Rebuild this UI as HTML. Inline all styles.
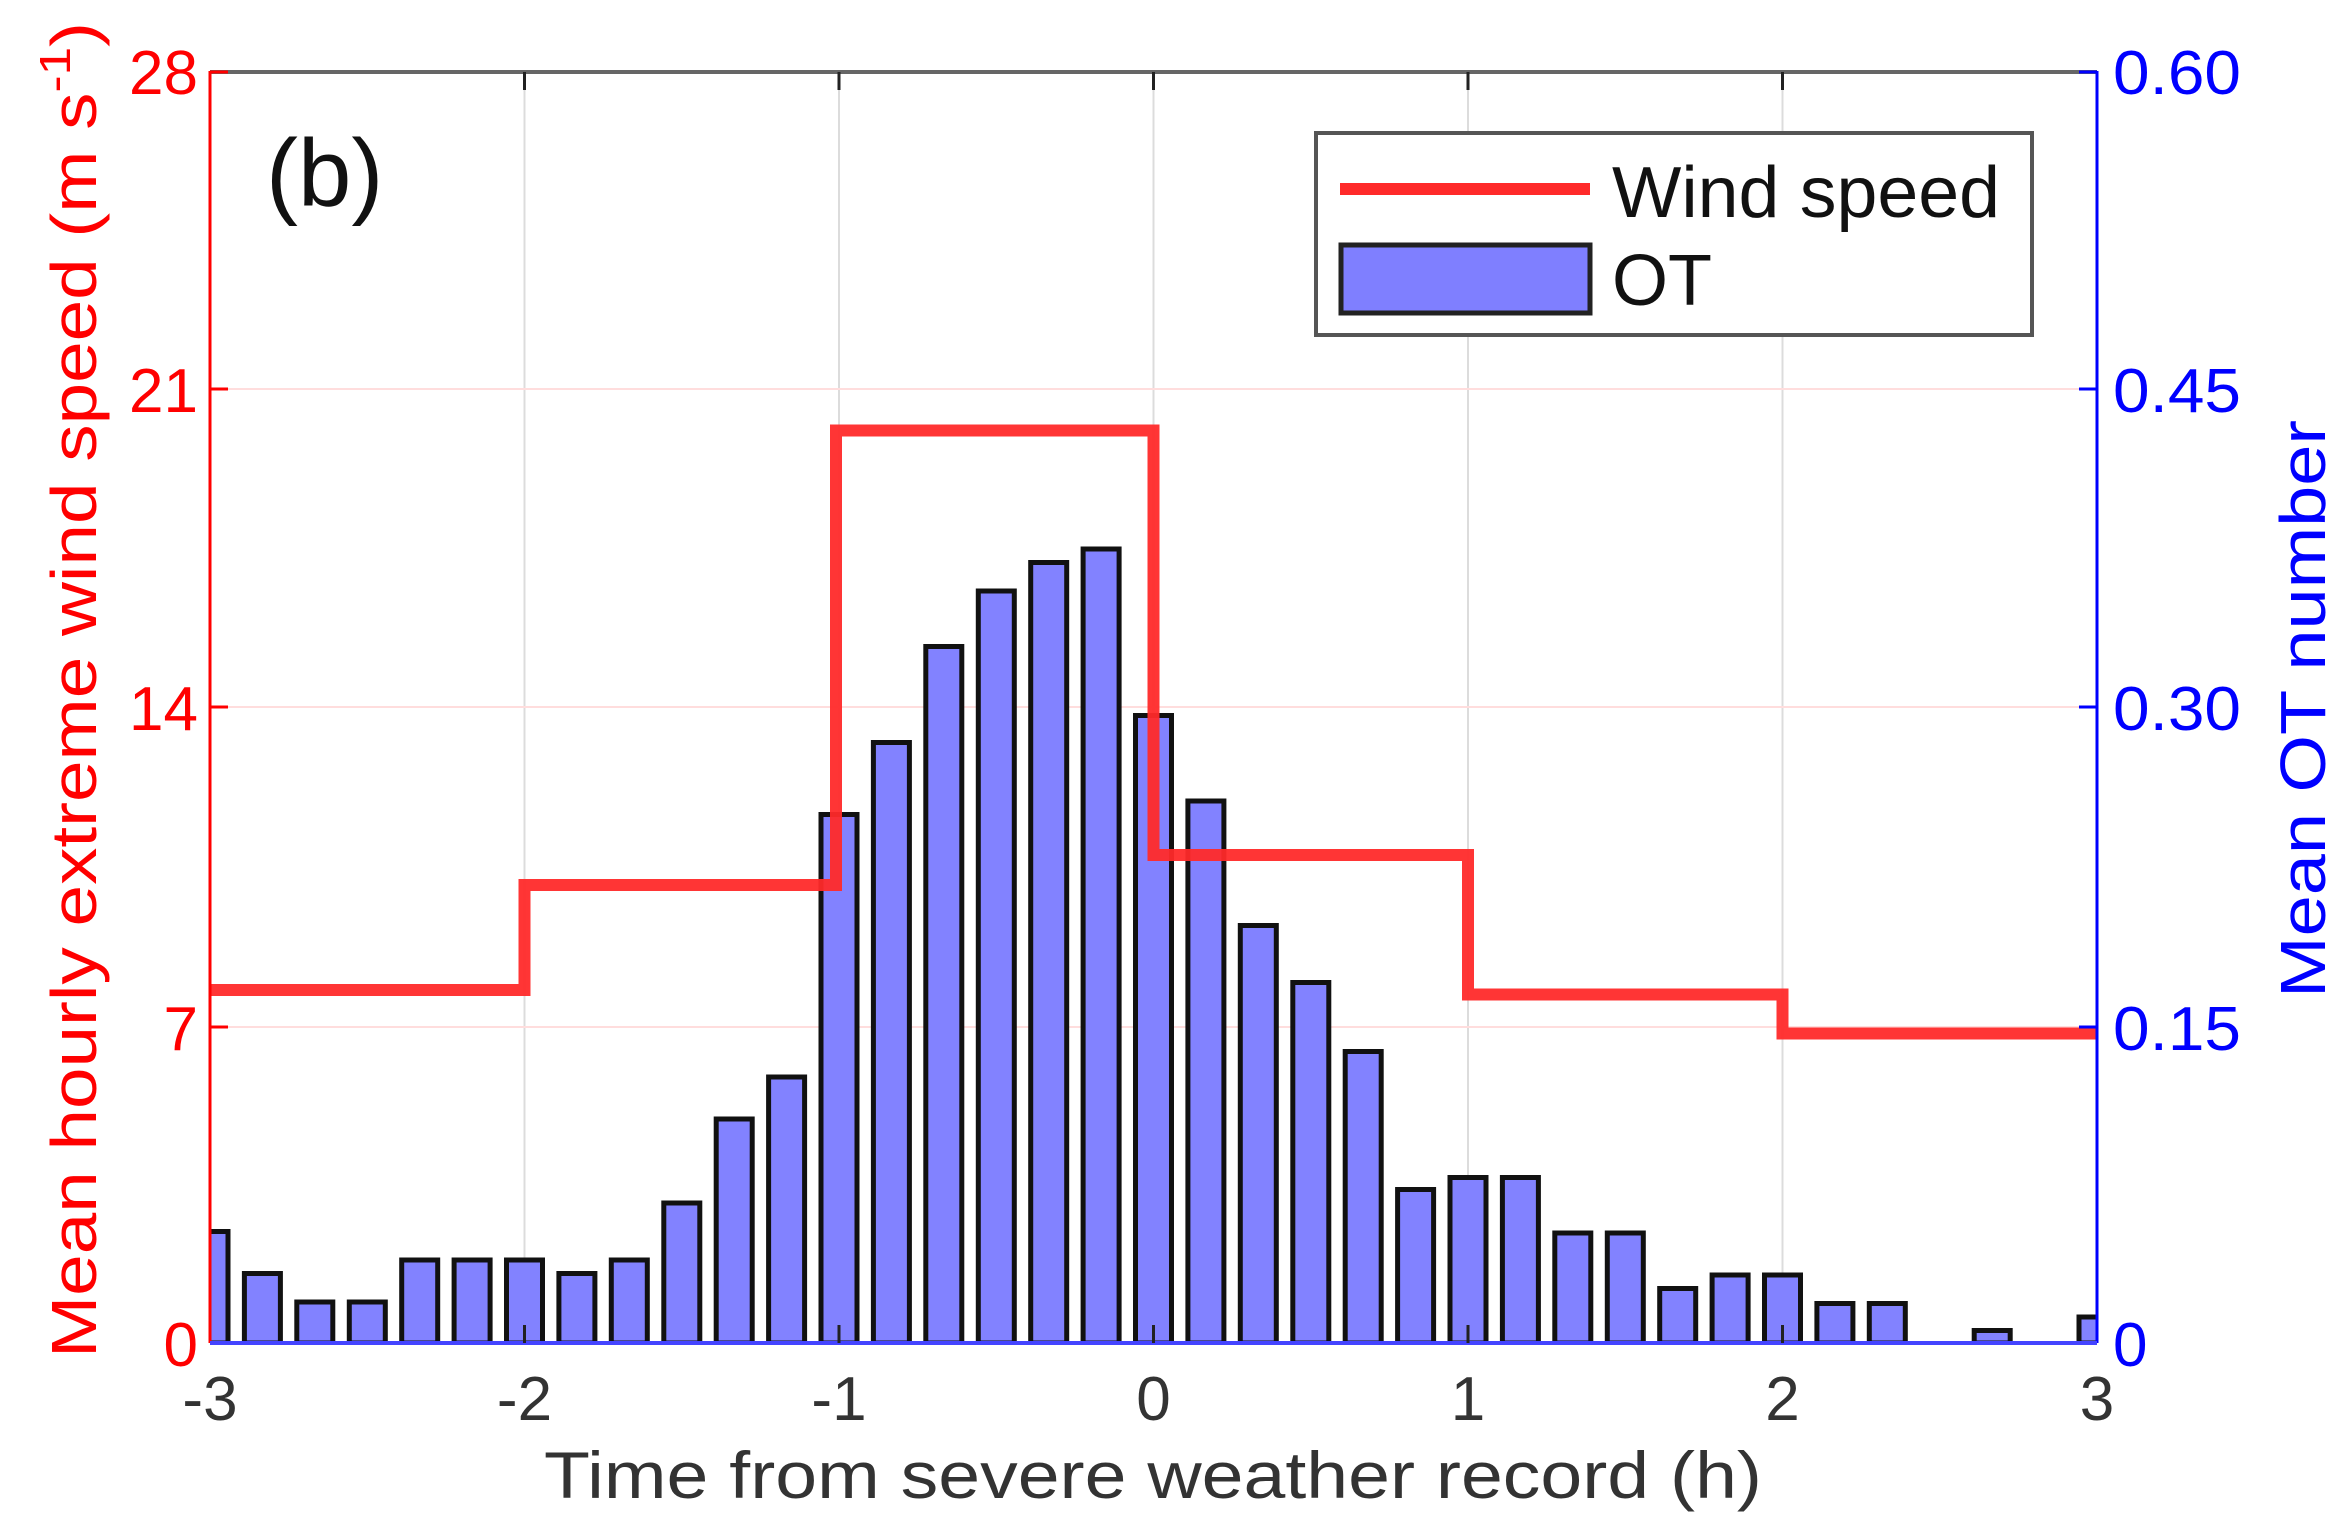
<!DOCTYPE html>
<html><head><meta charset="utf-8"><style>html,body{margin:0;padding:0;background:#fff}svg{display:block}</style></head>
<body>
<svg width="2346" height="1539" viewBox="0 0 2346 1539" xmlns="http://www.w3.org/2000/svg" font-family="Liberation Sans, Arial, sans-serif">
<defs><clipPath id="c"><rect x="210" y="71" width="1887" height="1272"/></clipPath></defs>
<rect width="2346" height="1539" fill="#fff"/>
<g stroke="#dcdcdc" stroke-width="2">
<line x1="524.5" y1="71" x2="524.5" y2="1343"/><line x1="839" y1="71" x2="839" y2="1343"/><line x1="1153.5" y1="71" x2="1153.5" y2="1343"/><line x1="1468" y1="71" x2="1468" y2="1343"/><line x1="1782.5" y1="71" x2="1782.5" y2="1343"/>
</g>
<g stroke="#fdd" stroke-width="2">
<line x1="210" y1="389" x2="2097" y2="389"/><line x1="210" y1="707" x2="2097" y2="707"/><line x1="210" y1="1027" x2="2097" y2="1027"/>
</g>
<g clip-path="url(#c)" fill="#7f7fff" fill-opacity="0.98" stroke="#111" stroke-width="5">
<rect x="192" y="1231.5" width="36" height="111.5"/>
<rect x="244.4" y="1273.5" width="36" height="69.5"/>
<rect x="296.8" y="1302" width="36" height="41"/>
<rect x="349.3" y="1302" width="36" height="41"/>
<rect x="401.7" y="1260" width="36" height="83"/>
<rect x="454.1" y="1260" width="36" height="83"/>
<rect x="506.5" y="1260" width="36" height="83"/>
<rect x="558.9" y="1273.5" width="36" height="69.5"/>
<rect x="611.3" y="1260" width="36" height="83"/>
<rect x="663.8" y="1203" width="36" height="140"/>
<rect x="716.2" y="1119" width="36" height="224"/>
<rect x="768.6" y="1077" width="36" height="266"/>
<rect x="821" y="814.5" width="36" height="528.5"/>
<rect x="873.4" y="742.5" width="36" height="600.5"/>
<rect x="925.8" y="646.5" width="36" height="696.5"/>
<rect x="978.3" y="591" width="36" height="752"/>
<rect x="1030.7" y="562.5" width="36" height="780.5"/>
<rect x="1083.1" y="549" width="36" height="794"/>
<rect x="1135.5" y="715.5" width="36" height="627.5"/>
<rect x="1187.9" y="801" width="36" height="542"/>
<rect x="1240.3" y="925.5" width="36" height="417.5"/>
<rect x="1292.8" y="982.5" width="36" height="360.5"/>
<rect x="1345.2" y="1051.5" width="36" height="291.5"/>
<rect x="1397.6" y="1189.5" width="36" height="153.5"/>
<rect x="1450" y="1177.5" width="36" height="165.5"/>
<rect x="1502.4" y="1177.5" width="36" height="165.5"/>
<rect x="1554.8" y="1233" width="36" height="110"/>
<rect x="1607.3" y="1233" width="36" height="110"/>
<rect x="1659.7" y="1288.5" width="36" height="54.5"/>
<rect x="1712.1" y="1275" width="36" height="68"/>
<rect x="1764.5" y="1275" width="36" height="68"/>
<rect x="1816.9" y="1303.5" width="36" height="39.5"/>
<rect x="1869.3" y="1303.5" width="36" height="39.5"/>
<rect x="1974.2" y="1330.5" width="36" height="12.5"/>
<rect x="2079" y="1317" width="36" height="26"/>
</g>
<polyline clip-path="url(#c)" fill="none" stroke="#ff2a2a" stroke-opacity="0.95" stroke-width="12" points="210,990 524.5,990 524.5,885 836,885 836,430.5 1153.5,430.5 1153.5,855 1468,855 1468,994.5 1782.5,994.5 1782.5,1033.5 2097,1033.5"/>
<line x1="210" y1="72" x2="2097" y2="72" stroke="#666" stroke-width="4"/>
<line x1="210" y1="71" x2="210" y2="1343" stroke="#f00" stroke-width="3"/>
<line x1="2097" y1="71" x2="2097" y2="1343" stroke="#00f" stroke-width="3"/>
<line x1="210" y1="1343" x2="2097" y2="1343" stroke="#44f" stroke-width="4"/>
<g stroke="#f00" stroke-width="3"><line x1="210" y1="72" x2="228" y2="72"/><line x1="210" y1="389" x2="228" y2="389"/><line x1="210" y1="707" x2="228" y2="707"/><line x1="210" y1="1027" x2="228" y2="1027"/></g>
<g stroke="#00f" stroke-width="3"><line x1="2079" y1="72" x2="2097" y2="72"/><line x1="2079" y1="389" x2="2097" y2="389"/><line x1="2079" y1="707" x2="2097" y2="707"/><line x1="2079" y1="1027" x2="2097" y2="1027"/></g>
<g stroke="#222" stroke-width="3"><line x1="524.5" y1="72" x2="524.5" y2="90"/><line x1="839" y1="72" x2="839" y2="90"/><line x1="1153.5" y1="72" x2="1153.5" y2="90"/><line x1="1468" y1="72" x2="1468" y2="90"/><line x1="1782.5" y1="72" x2="1782.5" y2="90"/>
<line x1="524.5" y1="1325" x2="524.5" y2="1343"/><line x1="839" y1="1325" x2="839" y2="1343"/><line x1="1153.5" y1="1325" x2="1153.5" y2="1343"/><line x1="1468" y1="1325" x2="1468" y2="1343"/><line x1="1782.5" y1="1325" x2="1782.5" y2="1343"/></g>
<g fill="#f00" font-size="62" text-anchor="end">
<text x="198" y="94">28</text><text x="198" y="412">21</text><text x="198" y="730">14</text><text x="198" y="1050">7</text><text x="198" y="1366">0</text>
</g>
<g fill="#00f" font-size="62">
<text x="2113" y="94" textLength="128" lengthAdjust="spacingAndGlyphs">0.60</text><text x="2113" y="412" textLength="128" lengthAdjust="spacingAndGlyphs">0.45</text><text x="2113" y="730" textLength="128" lengthAdjust="spacingAndGlyphs">0.30</text><text x="2113" y="1050" textLength="128" lengthAdjust="spacingAndGlyphs">0.15</text><text x="2113" y="1366">0</text>
</g>
<g fill="#333" font-size="62" text-anchor="middle">
<text x="210" y="1420">-3</text><text x="524.5" y="1420">-2</text><text x="839" y="1420">-1</text><text x="1153.5" y="1420">0</text><text x="1468" y="1420">1</text><text x="1782.5" y="1420">2</text><text x="2097" y="1420">3</text>
</g>
<text x="1153" y="1498" font-size="66" fill="#333" text-anchor="middle" textLength="1218" lengthAdjust="spacingAndGlyphs">Time from severe weather record (h)</text>
<text transform="translate(96,1358) rotate(-90)" font-size="64" fill="#f00" textLength="1336" lengthAdjust="spacingAndGlyphs">Mean hourly extreme wind speed (m s<tspan font-size="44" dy="-26">-1</tspan><tspan dy="26">)</tspan></text>
<text transform="translate(2325,998) rotate(-90)" font-size="64" fill="#00f" textLength="578" lengthAdjust="spacingAndGlyphs">Mean OT number</text>
<text x="266" y="206" font-size="96" fill="#111">(b)</text>
<rect x="1316" y="133" width="716" height="202" fill="#fff" stroke="#555" stroke-width="4"/>
<line x1="1340" y1="189" x2="1590" y2="189" stroke="#ff2a2a" stroke-width="12"/>
<rect x="1341" y="245" width="249" height="68" fill="#7f7fff" stroke="#222" stroke-width="5"/>
<text x="1612" y="217" font-size="72" fill="#111" textLength="388" lengthAdjust="spacingAndGlyphs">Wind speed</text>
<text x="1612" y="305" font-size="72" fill="#111">OT</text>
</svg>
</body></html>
